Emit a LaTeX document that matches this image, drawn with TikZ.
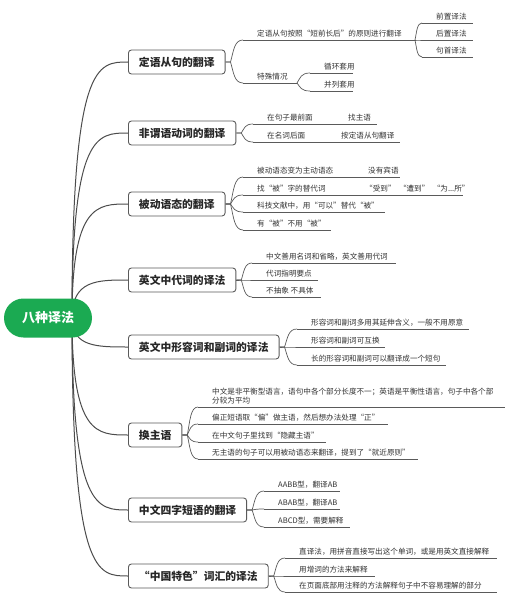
\documentclass[tikz,border=0pt]{standalone}
\usepackage{fontspec}
\setmainfont{Noto Sans CJK SC}
\usetikzlibrary{calc}
\definecolor{rootgreen}{RGB}{27,170,82}
\definecolor{lin}{RGB}{90,90,90}
\definecolor{txt}{RGB}{51,51,51}
\tikzset{
 rootbox/.style={fill=rootgreen, rounded corners=19.5pt, minimum width=88pt, minimum height=39pt, text=white, font=\fontsize{13}{13}\selectfont\bfseries, inner sep=0pt},
 branchbox/.style={draw=lin, line width=0.9pt, fill=white, rounded corners=3pt, minimum height=24pt, inner xsep=10.5pt, inner ysep=0pt, anchor=west, font=\fontsize{10.8}{11}\selectfont\bfseries, text=black!85},
 leaftext/.style={anchor=base west, inner sep=0pt, font=\fontsize{7.6}{8}\selectfont, text=txt},
 cline/.style={draw=lin, line width=0.7pt},
 rline/.style={draw=black!70, line width=1pt},
}
\newcommand\leaf[5]{\coordinate (#1) at (#2,#4); \coordinate (#1e) at (#3,#4);
 \node[leaftext] (#1t) at (#2+14,#4-3.5) {#5}; \draw[cline] (#1) -- (#1e);}
\newcommand\rconn[1]{\draw[rline] let \p1=(rc), \p2=(#1.west) in (\p1) .. controls (\x1,\y2) and ({\x1+0.45*(\x2-\x1)},\y2) .. (\p2);}
\newcommand\bconn[2]{\draw[cline] let \p1=($(#1.east)+(5,0)$), \p2=(#2) in (#1.east) -- (\p1) .. controls ({\x1+0.25*(\x2-\x1)},{\y1+0.5*(\y2-\y1)}) and ({\x1+0.3*(\x2-\x1)},\y2) .. (\p2);}
\newcommand\gconn[2]{\draw[cline] let \p1=(#1), \p2=(#2) in (\p1) .. controls ({\x1+0.25*(\x2-\x1)},{\y1+0.5*(\y2-\y1)}) and ({\x1+0.3*(\x2-\x1)},\y2) .. (\p2);}
\begin{document}
\begin{tikzpicture}[x=1pt,y=-1pt]
\useasboundingbox[fill=white] (0,0) rectangle (514,602);

% branches
\node[branchbox] (b1) at (128,62) {定语从句的翻译};
\node[branchbox] (b2) at (128,133) {非谓语动词的翻译};
\node[branchbox] (b3) at (128,204) {被动语态的翻译};
\node[branchbox] (b4) at (128,280) {英文中代词的译法};
\node[branchbox] (b5) at (128,347) {英文中形容词和副词的译法};
\node[branchbox] (b6) at (128,435) {换主语};
\node[branchbox] (b7) at (128,510) {中文四字短语的翻译};
\node[branchbox] (b8) at (128,576) {“中国特色”词汇的译法};

\coordinate (rc) at (72,318);
\foreach \b in {b1,b2,b3,b4,b5,b6,b7,b8} {\rconn{\b}}
\node[rootbox] (root) at (48,318) {八种译法};

% branch 1
\leaf{c11}{243}{415}{40}{定语从句按照“短前长后”的原则进行翻译}
\leaf{g111}{422}{473}{23}{前置译法}
\leaf{g112}{422}{473}{40}{后置译法}
\leaf{g113}{422}{473}{57}{句首译法}
\leaf{c12}{243}{297}{83}{特殊情况}
\leaf{g121}{310}{353}{73}{循环套用}
\leaf{g122}{310}{353}{91}{并列套用}
\bconn{b1}{c11}\bconn{b1}{c12}
\gconn{c11e}{g111}\gconn{c11e}{g112}\gconn{c11e}{g113}
\gconn{c12e}{g121}\gconn{c12e}{g122}

% branch 2
\leaf{c21}{253}{334}{124}{在句子最前面}
\leaf{g211}{334}{377}{124}{找主语}
\leaf{c22}{253}{327}{142}{在名词后面}
\leaf{g221}{327}{400}{142}{按定语从句翻译}
\bconn{b2}{c21}\bconn{b2}{c22}

% branch 3
\leaf{c31}{243}{354}{177}{被动语态变为主动语态}
\leaf{g311}{354}{400}{177}{没有宾语}
\leaf{c32}{243}{351}{195}{找“被”字的替代词}
\leaf{g321}{351}{463}{195}{“受到”\ \ “遭到”\ \ “为...所”}
\leaf{c33}{243}{385}{212}{科技文献中，用“可以”替代“被”}
\leaf{c34}{243}{331}{230}{有“被”不用“被”}
\bconn{b3}{c31}\bconn{b3}{c32}\bconn{b3}{c33}\bconn{b3}{c34}

% branch 4
\leaf{c41}{252}{396}{263}{中文善用名词和省略，英文善用代词}
\leaf{c42}{252}{318}{280}{代词指明要点}
\leaf{c43}{252}{321}{297}{不抽象 不具体}
\bconn{b4}{c41}\bconn{b4}{c42}\bconn{b4}{c43}

% branch 5
\leaf{c51}{297}{469}{329}{形容词和副词多用其延伸含义，一般不用原意}
\leaf{c52}{297}{385}{347}{形容词和副词可互换}
\leaf{c53}{297}{446}{365}{长的形容词和副词可以翻译成一个短句}
\bconn{b5}{c51}\bconn{b5}{c52}\bconn{b5}{c53}

% branch 6
\leaf{c61}{198}{505}{407}{分较为平均}
\node[leaftext] (c61t1) at (212,394.5) {中文是非平衡型语言，语句中各个部分长度不一；英语是平衡性语言，句子中各个部};
\leaf{c62}{198}{388}{424}{偏正短语取“偏”做主语，然后想办法处理“正”}
\leaf{c63}{198}{326}{442}{在中文句子里找到“隐藏主语”}
\leaf{c64}{198}{418}{459}{无主语的句子可以用被动语态来翻译，提到了“就近原则”}
\bconn{b6}{c61}\bconn{b6}{c62}\bconn{b6}{c63}\bconn{b6}{c64}

% branch 7
\leaf{c71}{264}{340}{491}{AABB型，翻译AB}
\leaf{c72}{264}{340}{509}{ABAB型，翻译AB}
\leaf{c73}{264}{350}{527}{ABCD型，需要解释}
\bconn{b7}{c71}\bconn{b7}{c72}\bconn{b7}{c73}

% branch 8
\leaf{c81}{285}{497}{558}{直译法，用拼音直接写出这个单词，或是用英文直接解释}
\leaf{c82}{285}{375}{576}{用增词的方法来解释}
\leaf{c83}{285}{497}{592}{在页面底部用注释的方法解释句子中不容易理解的部分}
\bconn{b8}{c81}\bconn{b8}{c82}\bconn{b8}{c83}
\end{tikzpicture}
\end{document}
